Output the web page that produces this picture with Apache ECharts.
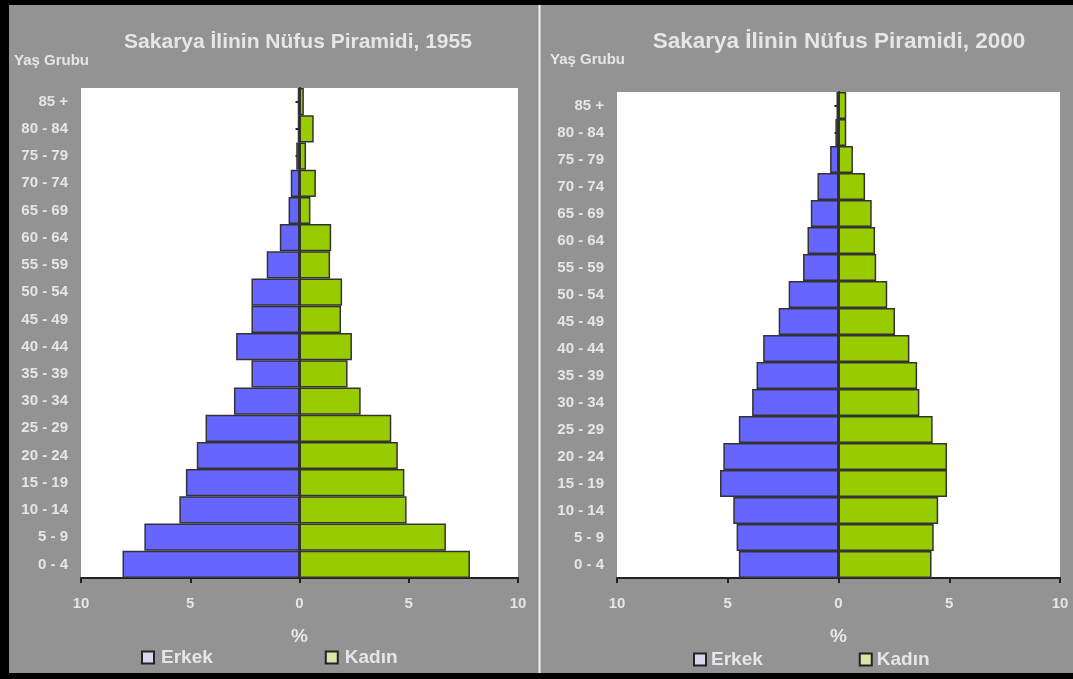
<!DOCTYPE html>
<html>
<head>
<meta charset="utf-8">
<script src="https://cdn.jsdelivr.net/npm/echarts@6/dist/echarts.min.js"></script>
<style>
html,body{margin:0;padding:0;background:#939393;}
#c{width:1073px;height:679px;}
</style>
</head>
<body>
<div id="c"></div>
<script>
var ageGroups = ['0 - 4','5 - 9','10 - 14','15 - 19','20 - 24','25 - 29','30 - 34','35 - 39','40 - 44','45 - 49','50 - 54','55 - 59','60 - 64','65 - 69','70 - 74','75 - 79','80 - 84','85 +'];
var male1955   = [8.1, 7.1, 5.5, 5.2, 4.7, 4.3, 3.0, 2.2, 2.9, 2.2, 2.2, 1.5, 0.9, 0.5, 0.4, 0.15, 0.08, 0.08];
var female1955 = [7.8, 6.7, 4.9, 4.8, 4.5, 4.2, 2.8, 2.2, 2.4, 1.9, 1.95, 1.4, 1.45, 0.5, 0.75, 0.3, 0.65, 0.2];
var male2000   = [4.5, 4.6, 4.75, 5.35, 5.2, 4.5, 3.9, 3.7, 3.4, 2.7, 2.25, 1.6, 1.4, 1.25, 0.95, 0.38, 0.14, 0.09];
var female2000 = [4.2, 4.3, 4.5, 4.9, 4.9, 4.25, 3.65, 3.55, 3.2, 2.55, 2.2, 1.7, 1.65, 1.5, 1.2, 0.65, 0.35, 0.35];
var xTicks = [-10, -5, 0, 5, 10];
var titles = ['Sakarya \u0130linin N\u00fcfus Piramidi, 1955', 'Sakarya \u0130linin N\u00fcfus Piramidi, 2000'];
var seriesNames = ['Erkek', 'Kad\u0131n'];

var TXT = '#e6e6e6';
var FONT = '"Liberation Sans", Arial, sans-serif';
var BLUE = '#6666ff', GREEN = '#99cc00';

function neg(a){ return a.map(function(v){ return -v; }); }

var grids = [
  {left: 81, width: 437, top: 88, height: 490},
  {left: 617, width: 443, top: 92, height: 486}
];
var males = [male1955, male2000];
var females = [female1955, female2000];

var xAxes = [], yAxes = [], series = [], legends = [];
for (var i = 0; i < 2; i++) {
  xAxes.push({
    type: 'value', gridIndex: i, min: xTicks[0], max: xTicks[xTicks.length-1], interval: 5,
    name: '%', nameLocation: 'middle', nameGap: 49,
    nameTextStyle: {color: TXT, fontSize: 19, fontWeight: 'bold', fontFamily: FONT},
    axisLine: {show: true, onZero: false, lineStyle: {color: '#222', width: 2}},
    axisTick: {show: true, length: 5, lineStyle: {color: '#222', width: 2}},
    splitLine: {show: false},
    axisLabel: {color: TXT, fontSize: 15, fontWeight: 'bold', fontFamily: FONT, margin: 18,
      formatter: function(v){ return Math.abs(v); }}
  });
  yAxes.push({
    type: 'category', gridIndex: i, data: ageGroups, position: 'left',
    axisLine: {show: false, onZero: false}, axisTick: {show: false},
    axisLabel: {color: TXT, fontSize: 15, fontWeight: 'bold', fontFamily: FONT, margin: 13},
    splitLine: {show: false}
  });
  yAxes.push({
    type: 'category', gridIndex: i, data: ageGroups, position: 'left',
    axisLine: {show: true, onZero: true, lineStyle: {color: '#222', width: 2}},
    axisTick: {show: true, alignWithLabel: true, length: 4, lineStyle: {color: '#222', width: 2}},
    axisLabel: {show: false}, splitLine: {show: false}
  });
  series.push({
    name: seriesNames[0], type: 'bar', xAxisIndex: i, yAxisIndex: i*2, stack: 's'+i,
    data: neg(males[i]), barCategoryGap: '0%',
    itemStyle: {color: BLUE, borderColor: '#333', borderWidth: 1.5}
  });
  series.push({
    name: seriesNames[1], type: 'bar', xAxisIndex: i, yAxisIndex: i*2, stack: 's'+i,
    data: females[i], barCategoryGap: '0%',
    itemStyle: {color: GREEN, borderColor: '#333', borderWidth: 1.5}
  });
}

legends.push({
  left: 136, top: 643, itemGap: 112, itemWidth: 12, itemHeight: 12, icon: 'rect',
  data: [
    {name: seriesNames[0], itemStyle: {color: '#d6d6ee', borderColor: '#222', borderWidth: 2}},
    {name: seriesNames[1], itemStyle: {color: '#dde4a8', borderColor: '#222', borderWidth: 2}}
  ],
  textStyle: {color: TXT, fontSize: 19, fontWeight: 'bold', fontFamily: FONT, padding: [0,0,0,2]},
  selectedMode: false
});
legends.push({
  left: 688, top: 645, itemGap: 96, itemWidth: 12, itemHeight: 12, icon: 'rect',
  data: [
    {name: seriesNames[0], itemStyle: {color: '#d6d6ee', borderColor: '#222', borderWidth: 2}},
    {name: seriesNames[1], itemStyle: {color: '#dde4a8', borderColor: '#222', borderWidth: 2}}
  ],
  textStyle: {color: TXT, fontSize: 19, fontWeight: 'bold', fontFamily: FONT, padding: [0,0,0,0]},
  selectedMode: false
});

var option = {
  backgroundColor: '#939393',
  animation: false,
  title: [
    {text: titles[0], left: 293, top: 27, textAlign: 'center',
     textStyle: {color: TXT, fontSize: 21, fontWeight: 'bold', fontFamily: FONT}},
    {text: titles[1], left: 834, top: 25, textAlign: 'center',
     textStyle: {color: TXT, fontSize: 22.5, fontWeight: 'bold', fontFamily: FONT}},
    {text: 'Ya\u015f Grubu', left: 9, top: 48,
     textStyle: {color: TXT, fontSize: 15, fontWeight: 'bold', fontFamily: FONT}},
    {text: 'Ya\u015f Grubu', left: 545, top: 47,
     textStyle: {color: TXT, fontSize: 15, fontWeight: 'bold', fontFamily: FONT}}
  ],
  grid: grids.map(function(g){ return Object.assign({show: true, backgroundColor: '#ffffff', borderWidth: 0}, g); }),
  xAxis: xAxes,
  yAxis: yAxes,
  legend: legends,
  series: series,
  graphic: [
    {type: 'rect', shape: {x: 0, y: 0, width: 1073, height: 5}, style: {fill: '#000'}},
    {type: 'rect', shape: {x: 0, y: 0, width: 9, height: 679}, style: {fill: '#000'}},
    {type: 'rect', shape: {x: 0, y: 673, width: 1073, height: 6}, style: {fill: '#000'}},
    {type: 'rect', shape: {x: 538.5, y: 5, width: 2, height: 668}, style: {fill: '#f4f4f4'}}
  ]
};

var chart = echarts.init(document.getElementById('c'));
chart.setOption(option);
</script>
</body>
</html>
